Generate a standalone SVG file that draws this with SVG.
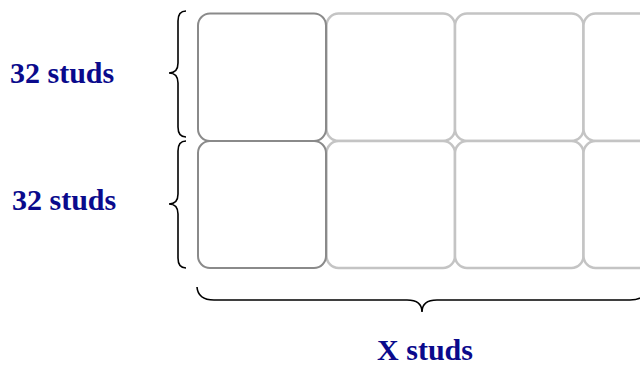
<svg xmlns="http://www.w3.org/2000/svg" width="640" height="367" viewBox="0 0 640 367">
<style>
.cell{fill:#ffffff;stroke:#c4c4c4;stroke-width:2.5}
.dark{fill:none;stroke:#8a8a8a;stroke-width:2}
.brace{fill:none;stroke:#000000;stroke-width:1.6}
.lbl{font-family:"Liberation Serif","Times New Roman",serif;font-weight:bold;font-size:30px;fill:#0a0a8c}
</style>
<rect width="640" height="367" fill="#ffffff"/>
<g id="grid">
<g id="cell-r1c2"><rect class="cell" x="326.5" y="13.5" width="128.5" height="127.5" rx="12"/></g>
<g id="cell-r1c3"><rect class="cell" x="455" y="13.5" width="128.5" height="127.5" rx="12"/></g>
<g id="cell-r1c4"><rect class="cell" x="583.5" y="13.5" width="128.5" height="127.5" rx="12"/></g>
<g id="cell-r2c2"><rect class="cell" x="326.5" y="141" width="128.5" height="127" rx="12"/></g>
<g id="cell-r2c3"><rect class="cell" x="455" y="141" width="128.5" height="127" rx="12"/></g>
<g id="cell-r2c4"><rect class="cell" x="583.5" y="141" width="128.5" height="127" rx="12"/></g>
<g id="cell-r1c1"><rect class="dark" x="198" y="13.5" width="128" height="127.5" rx="12"/></g>
<g id="cell-r2c1"><rect class="dark" x="198" y="141" width="128" height="127" rx="12"/></g>
</g>
<g id="connectors">
<path id="brace-row1" class="brace" d="M186,11 Q178,11 178,21 L178,63 Q178,73 169,73 Q178,73 178,83 L178,127 Q178,137 186,137"/>
<path id="brace-row2" class="brace" d="M186,141 Q178,141 178,151 L178,194 Q178,204 169,204 Q178,204 178,214 L178,258 Q178,268 186,268"/>
<path id="brace-bottom" class="brace" d="M197,287 Q198,300 214,300 L407,300 Q422,300 422,312 Q422,300 437,300 L630,300 Q646,300 647,287"/>
</g>
<g id="label-row1"><text class="lbl" x="10" y="83">32 studs</text></g>
<g id="label-row2"><text class="lbl" x="12" y="210">32 studs</text></g>
<g id="label-x"><text class="lbl" x="425" y="360" text-anchor="middle">X studs</text></g>
</svg>
